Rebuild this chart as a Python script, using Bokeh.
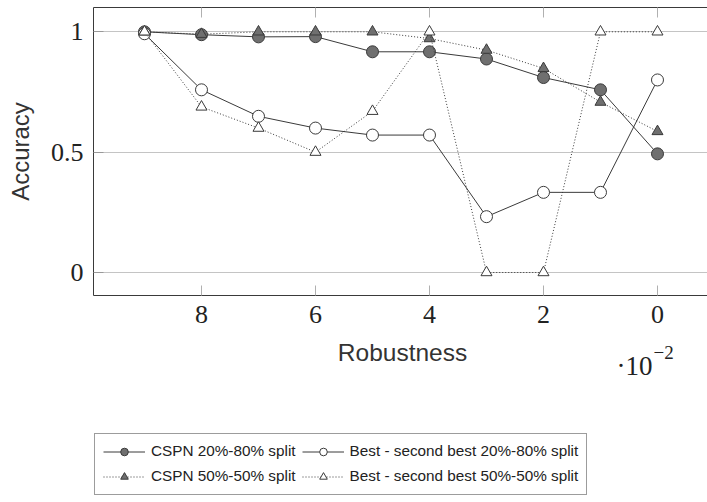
from bokeh.plotting import figure
from bokeh.models import Range1d, FixedTicker, LinearAxis, Legend, LegendItem, Label
from bokeh.layouts import column
from bokeh.embed import file_html
from bokeh.resources import INLINE

# ---- data ----
robustness = [0.09, 0.08, 0.07, 0.06, 0.05, 0.04, 0.03, 0.02, 0.01, 0.00]
cspn_20_80 = [1.0, 0.988, 0.979, 0.98, 0.917, 0.917, 0.887, 0.81, 0.759, 0.493]
best_20_80 = [0.992, 0.759, 0.649, 0.6, 0.571, 0.571, 0.232, 0.333, 0.333, 0.8]
cspn_50_50 = [1.0, 0.99, 1.0, 1.0, 1.0, 0.972, 0.924, 0.848, 0.708, 0.586]
best_50_50 = [1.0, 0.688, 0.6, 0.5, 0.67, 1.0, 0.0, 0.0, 1.0, 1.0]

x_ticks = [0.08, 0.06, 0.04, 0.02, 0.0]
x_tick_labels = ["8", "6", "4", "2", "0"]
y_ticks = [0.0, 0.5, 1.0]
y_tick_labels = ["0", "0.5", "1"]

labels = ["CSPN 20%-80% split", "Best - second best 20%-80% split",
          "CSPN 50%-50% split", "Best - second best 50%-50% split"]
x_title = "Robustness"
y_title = "Accuracy"

DARK = "#3a3a3a"
GRID = "#c4c4c4"
TICK = "#b0b0b0"
FILL = "#6f6f6f"
TXT = "#222222"
SERIF = "Liberation Serif"
SANS = "Liberation Sans"

W = 707
H1 = 338
H2 = 502 - H1
LEFT = 93

# ---------------- main chart ----------------
p = figure(width=W, height=H1, output_backend="svg", toolbar_location=None, title=None,
           x_range=Range1d(0.098947, -0.008772), y_range=Range1d(-0.0955, 1.101),
           min_border_left=LEFT, min_border_right=0, min_border_top=7,
           min_border_bottom=H1 - 295, y_axis_label=y_title)
p.outline_line_color = None
p.background_fill_color = "white"
p.border_fill_color = "white"

for ax in (p.xaxis[0], p.yaxis[0]):
    ax.major_tick_in = 10
    ax.major_tick_out = 0
    ax.minor_tick_line_color = None
    ax.major_tick_line_color = TICK
    ax.axis_line_color = DARK
    ax.major_label_text_font = SERIF
    ax.major_label_text_font_size = "26px"
    ax.major_label_text_color = TXT
    ax.axis_label_text_font = SANS
    ax.axis_label_text_font_size = "24px"
    ax.axis_label_text_font_style = "normal"
    ax.axis_label_text_color = "#333333"

p.xaxis.ticker = FixedTicker(ticks=x_ticks)
p.xaxis.major_label_overrides = {t: l for t, l in zip(x_ticks, x_tick_labels)}
p.xaxis.major_label_standoff = 10
p.yaxis.ticker = FixedTicker(ticks=y_ticks)
p.yaxis.major_label_overrides = {t: l for t, l in zip(y_ticks, y_tick_labels)}
p.yaxis.major_label_standoff = 10
p.yaxis.axis_label_standoff = 14
p.yaxis.major_tick_line_color = "#999999"

top = LinearAxis(ticker=FixedTicker(ticks=x_ticks), major_label_text_font_size="0px",
                 major_label_standoff=0, major_tick_in=10, major_tick_out=0,
                 minor_tick_line_color=None, major_tick_line_color=TICK,
                 axis_line_color=DARK)
top.major_label_overrides = {t: "" for t in x_ticks}
p.add_layout(top, "above")

p.xgrid.visible = False
p.ygrid.ticker = FixedTicker(ticks=y_ticks)
p.ygrid.grid_line_color = GRID

styles = [
    dict(dash="solid", marker="circle", size=12, fill=FILL),
    dict(dash="solid", marker="circle", size=12, fill="white"),
    dict(dash="1 2", marker="triangle", size=11, fill=FILL),
    dict(dash="1 2", marker="triangle", size=11, fill="white"),
]
series = [cspn_20_80, best_20_80, cspn_50_50, best_50_50]

for ys, st in zip(series, styles):
    p.line(robustness, ys, line_color=DARK, line_width=1, line_dash=st["dash"])
    p.scatter(robustness, ys, marker=st["marker"], size=st["size"],
              fill_color=st["fill"], line_color=DARK)

# ---------------- lower strip: axis title, exponent, legend ----------------
# ranges of this strip are in page pixels; its frame is aligned with the chart frame
p2 = figure(width=W, height=H2, output_backend="svg", toolbar_location=None, title=None,
            x_range=Range1d(LEFT, W), y_range=Range1d(502, H1),
            x_axis_location=None, y_axis_location=None,
            min_border_left=LEFT, min_border_right=0, min_border_top=0, min_border_bottom=0)
p2.outline_line_color = None
p2.xgrid.visible = False
p2.ygrid.visible = False
p2.background_fill_color = "white"
p2.border_fill_color = "white"

p2.add_layout(Label(x=402, y=351.5, text=x_title, text_font=SANS,
                    text_font_size="24.5px", text_align="center",
                    text_baseline="alphabetic", text_color="#333333"))
p2.add_layout(Label(x=616, y=365.5, text="·10", text_font=SERIF,
                    text_font_size="27px", text_baseline="alphabetic", text_color=TXT))
p2.add_layout(Label(x=653, y=351.5, text="−2", text_font=SERIF,
                    text_font_size="19px", text_baseline="alphabetic", text_color=TXT))

# legend proxies: same series and styles, drawn outside this strip's visible range
items = []
for lab, ys, st in zip(labels, series, styles):
    lr = p2.line(robustness, ys, line_color=DARK, line_width=1, line_dash=st["dash"])
    mr = p2.scatter(robustness, ys, marker=st["marker"], size=st["size"],
                    fill_color=st["fill"], line_color=DARK)
    items.append(LegendItem(label=lab, renderers=[lr, mr]))

legend = Legend(items=items, location=(1, 7.5), orientation="horizontal", ncols=2,
                glyph_width=42, glyph_height=19, label_standoff=6, spacing=6,
                padding=8, margin=0, border_line_color=DARK,
                label_text_font=SANS, label_text_font_size="15.3px",
                label_text_color=TXT, background_fill_alpha=1.0)
p2.add_layout(legend)

layout = column(p, p2, spacing=0)
open("out.html", "w").write(file_html(layout, INLINE))
